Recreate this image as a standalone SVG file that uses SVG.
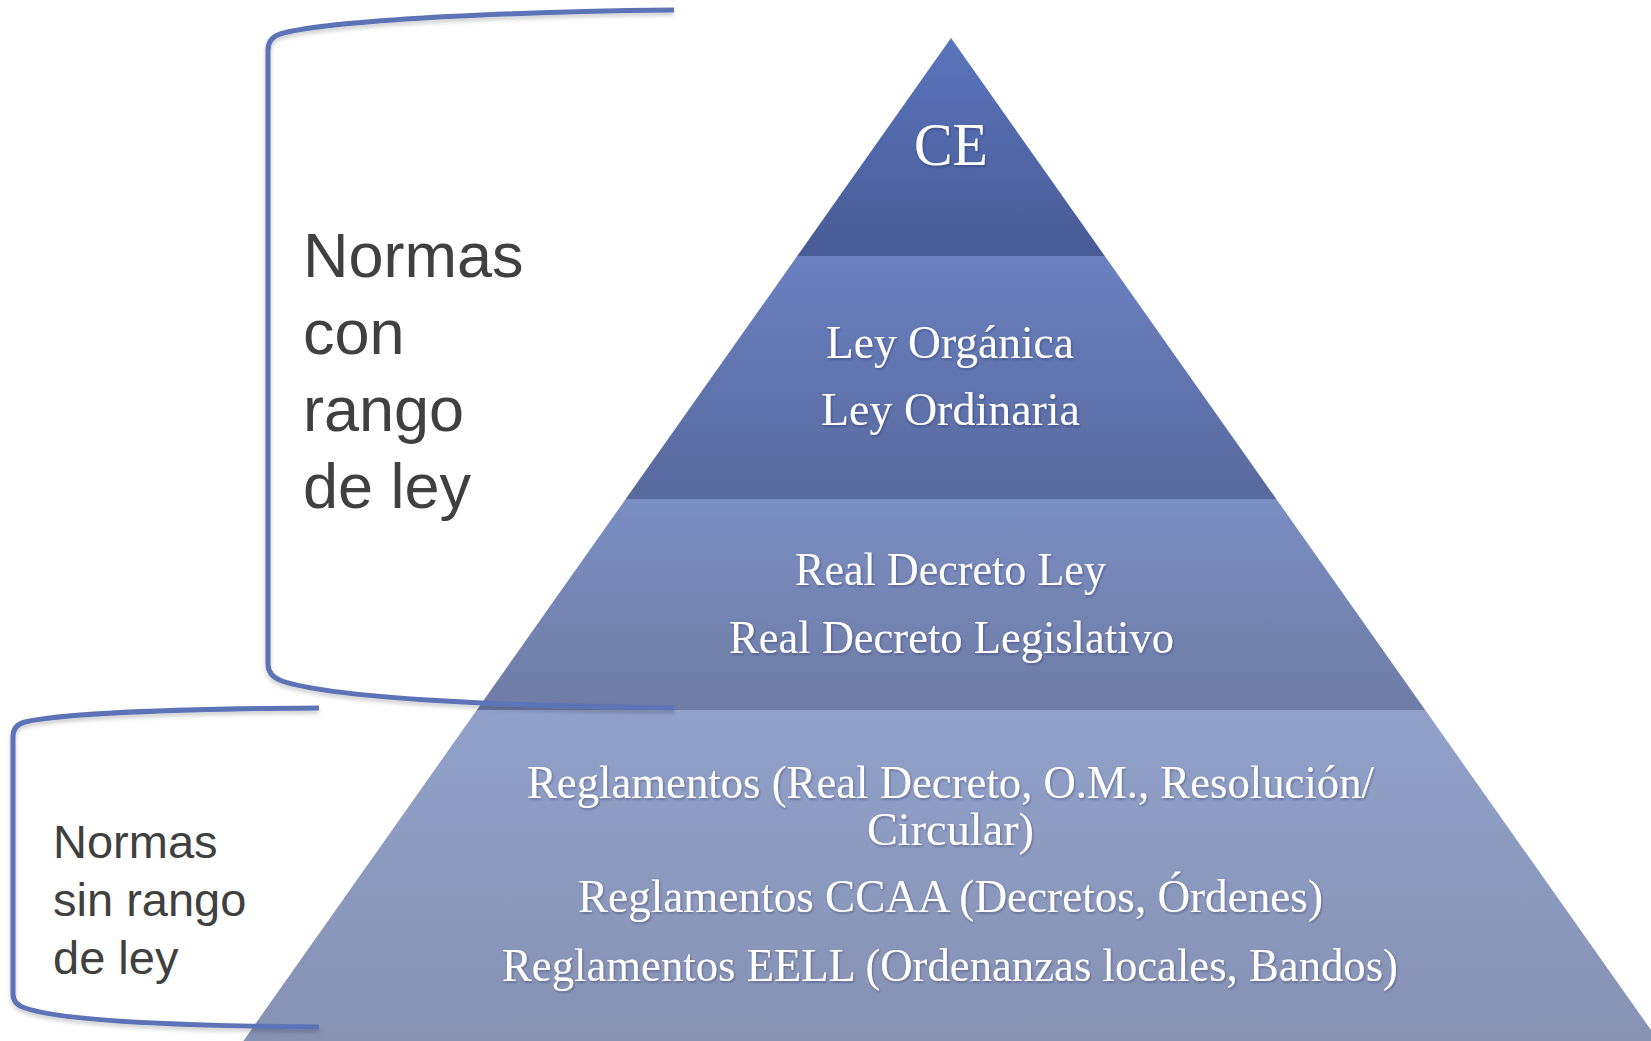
<svg xmlns="http://www.w3.org/2000/svg" width="1651" height="1041" viewBox="0 0 1651 1041">
  <style>
    .tier-label { font-family: "Liberation Serif", "Times New Roman", serif; fill: #ffffff; text-anchor: middle; }
    .side-label { font-family: "Liberation Sans", Arial, sans-serif; fill: #404040; }
    .bracket { fill: none; stroke: #5b73b7; stroke-width: 5; stroke-linecap: butt; stroke-linejoin: round; }
  </style>
  <defs>
    <linearGradient id="g1" x1="0" y1="0" x2="0" y2="1">
      <stop offset="0" stop-color="#5a74bc"/>
      <stop offset="1" stop-color="#485b95"/>
    </linearGradient>
    <linearGradient id="g2" x1="0" y1="0" x2="0" y2="1">
      <stop offset="0" stop-color="#6a80c0"/>
      <stop offset="1" stop-color="#58699d"/>
    </linearGradient>
    <linearGradient id="g3" x1="0" y1="0" x2="0" y2="1">
      <stop offset="0" stop-color="#7b8ec2"/>
      <stop offset="1" stop-color="#6e7ca6"/>
    </linearGradient>
    <linearGradient id="g4" x1="0" y1="0" x2="0" y2="1">
      <stop offset="0" stop-color="#91a1ca"/>
      <stop offset="1" stop-color="#8792b3"/>
    </linearGradient>
    <filter id="shadow" x="-10%" y="-10%" width="120%" height="130%">
      <feDropShadow dx="0" dy="3" stdDeviation="2" flood-color="#000000" flood-opacity="0.2"/>
    </filter>
    <filter id="tshadow" x="-5%" y="-20%" width="110%" height="150%">
      <feDropShadow dx="1" dy="1.5" stdDeviation="1" flood-color="#1a2340" flood-opacity="0.35"/>
    </filter>
  </defs>

  <rect x="0" y="0" width="1651" height="1041" fill="#ffffff"/>

  <g id="tier-ce">
    <polygon points="951,38 1104.8,256 797.2,256" fill="url(#g1)"/>
    <text class="tier-label" x="951" y="165" font-size="62" textLength="74" lengthAdjust="spacingAndGlyphs" filter="url(#tshadow)">CE</text>
  </g>

  <g id="tier-leyes">
    <polygon points="797.2,256 1104.8,256 1276.3,499 625.7,499" fill="url(#g2)"/>
    <text class="tier-label" x="950" y="358" font-size="47" textLength="248" lengthAdjust="spacingAndGlyphs" filter="url(#tshadow)">Ley Orgánica</text>
    <text class="tier-label" x="950.5" y="425" font-size="47" textLength="259" lengthAdjust="spacingAndGlyphs" filter="url(#tshadow)">Ley Ordinaria</text>
  </g>

  <g id="tier-decretos">
    <polygon points="625.7,499 1276.3,499 1425.2,710 476.8,710" fill="url(#g3)"/>
    <text class="tier-label" x="950.5" y="585" font-size="47" textLength="311" lengthAdjust="spacingAndGlyphs" filter="url(#tshadow)">Real Decreto Ley</text>
    <text class="tier-label" x="951.5" y="653" font-size="47" textLength="445" lengthAdjust="spacingAndGlyphs" filter="url(#tshadow)">Real Decreto Legislativo</text>
  </g>

  <g id="tier-reglamentos">
    <polygon points="476.8,710 1425.2,710 1658.7,1041 243.3,1041" fill="url(#g4)"/>
    <text class="tier-label" x="950.5" y="798" font-size="47" textLength="847" lengthAdjust="spacingAndGlyphs" filter="url(#tshadow)">Reglamentos (Real Decreto, O.M., Resolución/</text>
    <text class="tier-label" x="950.5" y="845" font-size="47" textLength="167" lengthAdjust="spacingAndGlyphs" filter="url(#tshadow)">Circular)</text>
    <text class="tier-label" x="950.5" y="912" font-size="47" textLength="745" lengthAdjust="spacingAndGlyphs" filter="url(#tshadow)">Reglamentos CCAA (Decretos, Órdenes)</text>
    <text class="tier-label" x="950" y="981" font-size="47" textLength="896" lengthAdjust="spacingAndGlyphs" filter="url(#tshadow)">Reglamentos EELL (Ordenanzas locales, Bandos)</text>
  </g>

  <g id="connectors">
    <path id="bracket-con-rango" class="bracket" filter="url(#shadow)" d="M 674 10 C 480 12, 320 22, 280 34 Q 268 38, 268 50 L 268 664 Q 268 676, 282 681 C 330 697, 480 706, 674 708"/>
    <path id="bracket-sin-rango" class="bracket" filter="url(#shadow)" d="M 319 708 C 170 709, 60 714, 25 722 Q 13 725, 13 737 L 13 994 Q 13 1004, 25 1008 C 60 1020, 170 1026, 319 1027"/>
  </g>

  <g id="label-con-rango">
    <text class="side-label" x="303" y="277" font-size="63">Normas</text>
    <text class="side-label" x="303" y="354" font-size="63">con</text>
    <text class="side-label" x="303" y="431" font-size="63">rango</text>
    <text class="side-label" x="303" y="508" font-size="63">de ley</text>
  </g>

  <g id="label-sin-rango">
    <text class="side-label" x="53" y="858" font-size="47">Normas</text>
    <text class="side-label" x="53" y="916" font-size="47">sin rango</text>
    <text class="side-label" x="53" y="974" font-size="47">de ley</text>
  </g>
</svg>
